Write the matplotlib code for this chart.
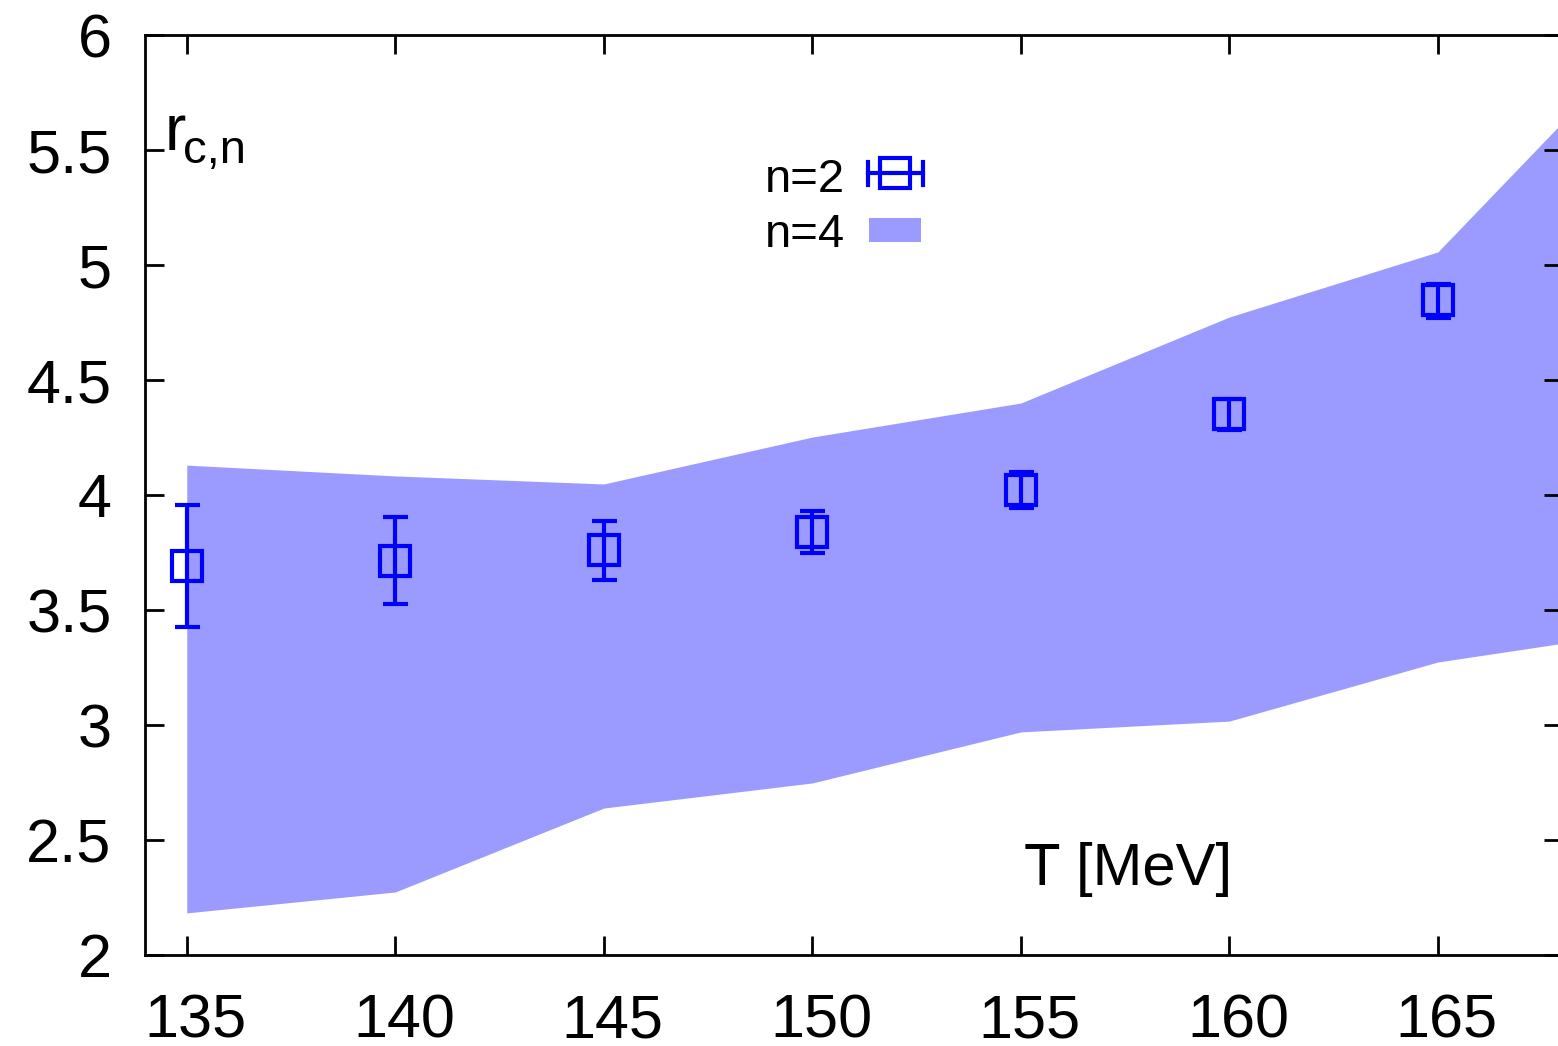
import matplotlib
matplotlib.use('Agg')
import matplotlib.pyplot as plt
import matplotlib.transforms as mtransforms
from matplotlib.ticker import FuncFormatter

plt.rcParams['font.family'] = ['Liberation Sans', 'DejaVu Sans']

# n=2 points with errors
T2 = [135, 140, 145, 150, 155, 160, 165]
r2 = [3.69, 3.713, 3.76, 3.84, 4.022, 4.352, 4.848]
r2_lo = [3.426, 3.526, 3.63, 3.748, 3.943, 4.283, 4.77]
r2_hi = [3.957, 3.904, 3.887, 3.93, 4.10, 4.417, 4.917]

# n=4 band
T4 = [135, 140, 145, 150, 155, 160, 165, 170]
r4_lo = [2.183, 2.274, 2.639, 2.748, 2.97, 3.017, 3.274, 3.41]
r4_hi = [4.13, 4.083, 4.048, 4.252, 4.40, 4.774, 5.057, 6.0]

xticks = [135, 140, 145, 150, 155, 160, 165]
yticks = [2, 2.5, 3, 3.5, 4, 4.5, 5, 5.5, 6]

blue = '#0000ff'
band = '#9b9bff'

fig = plt.figure(figsize=(15.58, 10.46), dpi=100)
ax = fig.add_axes([0.0931, 0.0870, 0.9101, 0.8795])

ax.fill_between(T4, r4_lo, r4_hi, color=band, lw=0, zorder=1)

yerr = [[c - l for c, l in zip(r2, r2_lo)], [h - c for c, h in zip(r2, r2_hi)]]
ax.errorbar(T2, r2, yerr=yerr, fmt='s', ms=22, mfc='none', mec=blue, mew=3,
            ecolor=blue, elinewidth=3, capsize=9, capthick=3, zorder=3)

ax.set_xlim(134, 168)
ax.set_ylim(2, 6)
ax.set_xticks(xticks)
ax.set_yticks(yticks)
ax.yaxis.set_major_formatter(FuncFormatter(lambda v, p: '%g' % v))
ax.tick_params(direction='in', length=14, width=2, labelsize=44,
               top=True, right=True)
ax.tick_params(axis='x', pad=28)
ax.tick_params(axis='y', pad=24)
for s in ax.spines.values():
    s.set_linewidth(2)

# gnuplot-style x labels sit a little right of their ticks
shift = mtransforms.ScaledTranslation(0.09, 0, fig.dpi_scale_trans)
for lab in ax.get_xticklabels():
    lab.set_transform(lab.get_transform() + shift)

# axis labels inside the frame
ax.text(0.0141, 0.875, 'r', transform=ax.transAxes, fontsize=46,
        ha='left', va='baseline')
ax.text(0.0268, 0.861, 'c,n', transform=ax.transAxes, fontsize=34,
        ha='left', va='baseline')
ax.text(0.693, 0.076, 'T [MeV]', transform=ax.transAxes, fontsize=43,
        ha='center', va='baseline')

# key
ax.text(0.4938, 0.829, 'n=2', transform=ax.transAxes, fontsize=34,
        ha='right', va='baseline')
ax.text(0.4938, 0.7696, 'n=4', transform=ax.transAxes, fontsize=34,
        ha='right', va='baseline')
kx, ky = 0.529, 0.85
cx0, cx1 = 0.5099, 0.5487
ax.plot([cx0, cx1], [ky, ky], color=blue, lw=3, transform=ax.transAxes, zorder=4)
for cx in (cx0, cx1):
    ax.plot([cx, cx], [ky - 0.0125, ky + 0.0125], color=blue, lw=3,
            transform=ax.transAxes, zorder=4)
ax.plot([kx], [ky], 's', ms=22, mfc='none', mec=blue, mew=3,
        transform=ax.transAxes, zorder=4)
ax.add_patch(plt.Rectangle((0.5106, 0.775), 0.0367, 0.0261, color=band, lw=0,
                           transform=ax.transAxes, zorder=4))

fig.savefig('out.png', dpi=100)
